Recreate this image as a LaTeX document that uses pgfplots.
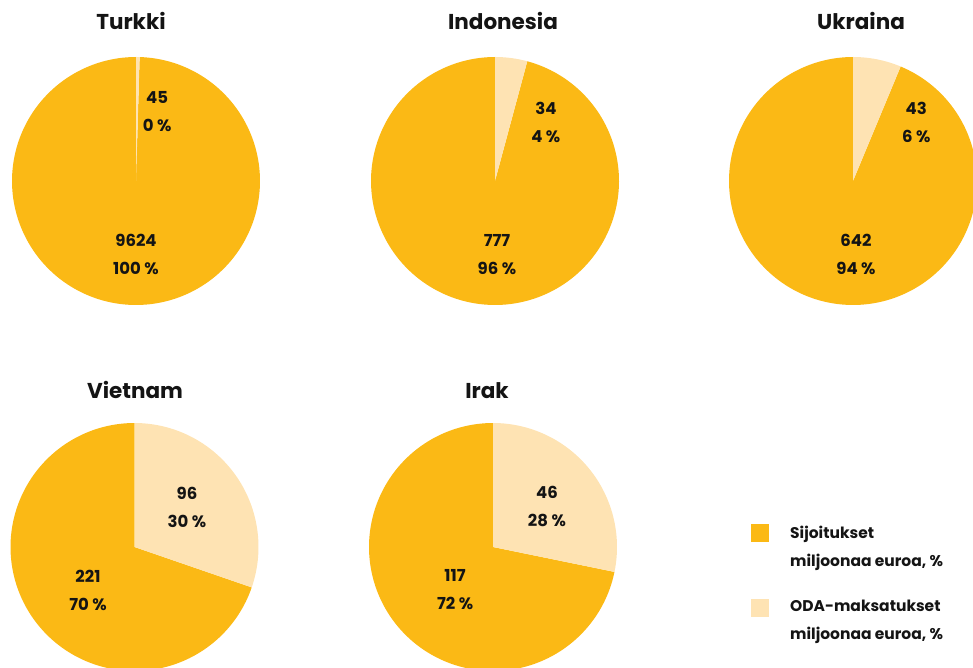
\documentclass[border=0pt]{standalone}
\usepackage{fontspec}
\setmainfont{Poppins}
\usepackage{pgfplots}
\pgfplotsset{compat=1.18}
\definecolor{sij}{HTML}{FBB915}
\definecolor{oda}{HTML}{FEE3B3}
\definecolor{txt}{HTML}{141414}
\pgfplotsset{pie/.style={scale only axis, width=248pt, height=248pt, hide axis,
  xmin=-1, xmax=1, ymin=-1, ymax=1, anchor=center, clip=false}}
\tikzset{lab/.style={align=center, text=txt, font=\bfseries\fontsize{16.5}{28}\selectfont},
  ttl/.style={anchor=base, text=txt, font=\bfseries\fontsize{21.5}{26}\selectfont},
  leg/.style={anchor=base west, inner sep=0pt, text=txt, font=\bfseries\fontsize{15.5}{18}\selectfont}}
% #1 = ODA-maksatukset, #2 = Sijoitukset (milj. euroa)
\newcommand{\slices}[2]{%
  \pgfmathsetmacro{\frac}{#1/(#1+#2)}%
  \pgfmathsetmacro{\sa}{90-360*\frac}%
  \addplot[fill=sij, draw=none, domain=-270:\sa, samples=180, variable=\t]
    ({cos(\t)}, {sin(\t)}) -- (axis cs:0,0) -- cycle;
  \addplot[fill=oda, draw=none, domain=\sa:90, samples=60, variable=\t]
    ({cos(\t)}, {sin(\t)}) -- (axis cs:0,0) -- cycle;
}
\begin{document}
\begin{tikzpicture}[x=1pt, y=1pt]
\path[use as bounding box] (0,0) rectangle (973,667);
\clip (0,0) rectangle (973,667);
% Turkki
\begin{axis}[pie, at={(136pt,486pt)}]
  \slices{45}{9624}
  \node[lab] at (axis cs:0.17,0.556) {45\\0 \%};
  \node[lab] at (axis cs:0,-0.59) {9624\\100 \%};
\end{axis}
% Indonesia
\begin{axis}[pie, at={(495pt,486pt)}]
  \slices{34}{777}
  \node[lab] at (axis cs:0.41,0.476) {34\\4 \%};
  \node[lab] at (axis cs:0.016,-0.59) {777\\96 \%};
\end{axis}
% Ukraina
\begin{axis}[pie, at={(853pt,486pt)}]
  \slices{43}{642}
  \node[lab] at (axis cs:0.51,0.476) {43\\6 \%};
  \node[lab] at (axis cs:0.024,-0.59) {642\\94 \%};
\end{axis}
% Vietnam
\begin{axis}[pie, at={(134.5pt,120pt)}]
  \slices{96}{221}
  \node[lab] at (axis cs:0.423,0.323) {96\\30 \%};
  \node[lab] at (axis cs:-0.375,-0.347) {221\\70 \%};
\end{axis}
% Irak
\begin{axis}[pie, at={(493pt,120pt)}]
  \slices{46}{117}
  \node[lab] at (axis cs:0.435,0.323) {46\\28 \%};
  \node[lab] at (axis cs:-0.306,-0.347) {117\\72 \%};
\end{axis}
% titles
\node[ttl] at (131,637.5) {Turkki};
\node[ttl] at (503,637.5) {Indonesia};
\node[ttl] at (861,637.5) {Ukraina};
\node[ttl] at (135,269) {Vietnam};
\node[ttl] at (487,269) {Irak};
% legend
\fill[sij] (751,125) rectangle (769,143);
\fill[oda] (751,50) rectangle (769,68);
\node[leg] at (790,129) {Sijoitukset};
\node[leg] at (790,101) {miljoonaa euroa, \%};
\node[leg] at (790,56) {ODA-maksatukset};
\node[leg] at (790,28) {miljoonaa euroa, \%};
\end{tikzpicture}
\end{document}
